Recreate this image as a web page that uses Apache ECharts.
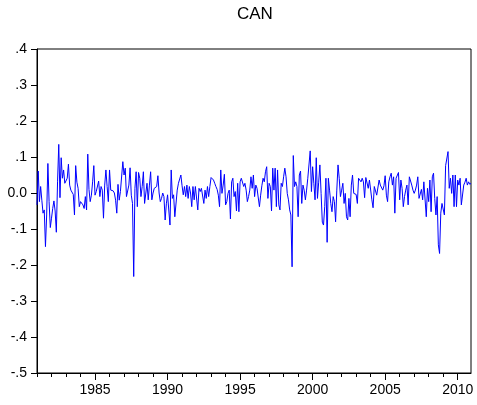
<!DOCTYPE html>
<html>
<head>
<meta charset="utf-8">
<script src="https://cdn.jsdelivr.net/npm/echarts@6/dist/echarts.min.js"></script>
<style>
  html, body { margin: 0; padding: 0; background: #fff; }
  #chart { width: 477px; height: 405px; }
</style>
</head>
<body>
<div id="chart"></div>
<script>
// CAN, monthly, 1981M01 - 2010M12 (one row per year)
const can1981_1990 = [
  -0.033, 0.061, -0.024, 0.018, -0.020, -0.056, -0.047, -0.149, -0.061, 0.082, -0.024, -0.096,
  -0.070, -0.043, -0.022, -0.050, -0.109, 0.031, 0.135, -0.013, 0.098, 0.041, 0.064, 0.027,
  0.031, 0.041, 0.080, 0.022, 0.008, 0.004, -0.004, -0.061, 0.076, 0.030, 0.013, -0.038,
  -0.024, -0.020, -0.033, -0.043, -0.010, -0.047, 0.108, 0.010, -0.024, -0.006, 0.031, 0.076,
  -0.006, 0.004, 0.002, 0.033, -0.010, 0.018, 0.008, -0.070, 0.022, 0.064, 0.018, -0.024,
  0.064, 0.008, 0.004, 0.006, 0.000, -0.020, -0.056, 0.024, -0.020, 0.004, -0.001, 0.087,
  0.050, 0.069, -0.010, -0.015, 0.022, 0.070, -0.006, -0.029, -0.232, 0.013, 0.059, -0.038,
  0.057, 0.041, -0.010, 0.018, 0.059, -0.029, -0.033, 0.027, -0.019, 0.022, 0.059, -0.019,
  0.000, 0.013, 0.008, 0.018, 0.048, 0.000, -0.024, -0.015, 0.000, -0.010, -0.075, -0.030,
  -0.005, 0.000, -0.089, 0.064, -0.015, -0.005, -0.066, -0.061, 0.008, 0.027, 0.022, 0.050
];
const can1991_2000 = [
  0.020, -0.005, 0.018, -0.010, 0.022, -0.015, 0.018, 0.000, -0.038, 0.018, -0.019, 0.018,
  0.022, -0.047, 0.013, 0.004, 0.013, 0.013, -0.029, 0.008, -0.015, 0.018, -0.010, 0.018,
  0.043, 0.048, 0.036, 0.027, 0.018, 0.010, -0.006, -0.038, 0.064, -0.001, 0.022, 0.052,
  -0.033, -0.024, -0.001, 0.008, -0.072, 0.031, 0.041, -0.010, 0.004, -0.050, 0.027, -0.052,
  0.031, 0.041, 0.036, 0.018, 0.027, 0.008, -0.024, -0.010, 0.008, 0.045, 0.013, 0.050,
  -0.010, 0.022, 0.013, 0.013, -0.038, -0.006, 0.020, 0.041, 0.031, 0.059, 0.073, -0.015,
  0.027, 0.018, -0.050, 0.069, 0.008, 0.069, -0.038, 0.064, -0.033, -0.047, 0.027, 0.018,
  0.045, 0.069, 0.045, -0.001, -0.019, -0.047, -0.061, -0.205, 0.104, 0.018, 0.031, 0.018,
  -0.066, 0.050, 0.061, -0.029, 0.022, 0.008, -0.019, 0.008, 0.041, 0.036, 0.117, 0.004,
  0.073, 0.027, -0.019, 0.098, -0.015, 0.030, 0.078, -0.001, -0.081, -0.089, -0.038, 0.041
];
const can2001_2010 = [
  -0.137, 0.041, 0.008, -0.029, -0.052, -0.010, -0.024, -0.080, 0.008, 0.078, 0.041, -0.010,
  0.008, 0.027, -0.029, -0.001, -0.066, -0.075, -0.015, -0.066, 0.022, 0.050, -0.001, -0.006,
  -0.004, -0.029, 0.041, 0.043, 0.031, 0.041, 0.031, -0.013, 0.043, 0.045, 0.013, 0.036,
  0.031, -0.019, -0.041, 0.018, 0.022, -0.006, -0.010, 0.036, 0.022, 0.018, 0.008, 0.020,
  0.048, -0.006, -0.024, 0.031, 0.045, 0.055, 0.022, 0.045, -0.056, 0.041, 0.045, 0.057,
  -0.019, 0.036, 0.013, -0.038, -0.010, 0.008, 0.022, -0.033, 0.045, 0.041, 0.022, 0.008,
  -0.001, 0.008, 0.022, 0.045, -0.015, -0.010, 0.010, -0.019, 0.031, 0.036, -0.066, 0.013,
  -0.024, 0.036, -0.052, 0.045, 0.055, -0.015, -0.061, -0.010, -0.144, -0.168, -0.056, -0.029,
  -0.033, -0.061, 0.076, 0.078, 0.115, 0.013, 0.041, -0.001, 0.050, -0.038, 0.050, -0.038,
  0.036, 0.022, 0.041, -0.033, -0.038, 0.022, 0.030, 0.041, 0.022, 0.031, 0.024, 0.027
];

const firstYear = 1981;
const lastYear = 2010;
const labelYears = [1985, 1990, 1995, 2000, 2005, 2010];

// categories 1981M01 ... 2010M12
const months = [];
for (let y = firstYear; y <= lastYear; y++) {
  for (let m = 1; m <= 12; m++) months.push(y + 'M' + String(m).padStart(2, '0'));
}
const values = can1981_1990.concat(can1991_2000, can2001_2010);

const isJan = v => v.slice(4) === 'M01';
const isLabelYear = v => isJan(v) && labelYears.indexOf(+v.slice(0, 4)) >= 0;

// y labels in EViews style: .4  .1  0.0  -.1
const fmtY = v => {
  const n = Math.round(v * 10);
  if (n === 0) return '0.0';
  return (n < 0 ? '-' : '') + '.' + Math.abs(n);
};

const font = 'Liberation Sans, Arial, sans-serif';
const chart = echarts.init(document.getElementById('chart'), null, { renderer: 'canvas' });

chart.setOption({
  animation: false,
  backgroundColor: '#fff',
  title: {
    text: 'CAN',
    left: 237,
    top: 6,
    padding: 0,
    textStyle: { fontFamily: font, fontSize: 17, fontWeight: 'normal', color: '#000' }
  },
  grid: {
    left: 37, right: 6, top: 49, bottom: 32,
    show: true, borderColor: '#000', borderWidth: 1,
    outerBoundsMode: 'none'
  },
  xAxis: [
    {
      // yearly minor ticks
      type: 'category',
      data: months,
      boundaryGap: false,
      position: 'bottom',
      axisLine: { show: true, onZero: false, lineStyle: { color: '#000', width: 1 } },
      axisTick: { show: true, interval: (i, v) => isJan(v), length: 4, lineStyle: { color: '#000' } },
      axisLabel: { show: false },
      splitLine: { show: false }
    },
    {
      // major ticks and labels every 5 years
      type: 'category',
      data: months,
      boundaryGap: false,
      position: 'bottom',
      axisLine: { show: false, onZero: false },
      axisTick: { show: true, interval: (i, v) => isLabelYear(v), length: 7, lineStyle: { color: '#000' } },
      axisLabel: {
        show: true,
        interval: (i, v) => isLabelYear(v),
        formatter: v => v.slice(0, 4),
        margin: 10,
        fontFamily: font, fontSize: 14, color: '#000'
      },
      splitLine: { show: false }
    }
  ],
  yAxis: {
    type: 'value',
    min: -0.5,
    max: 0.4,
    interval: 0.1,
    axisLine: { show: true, lineStyle: { color: '#000', width: 1 } },
    axisTick: { show: true, length: 6, lineStyle: { color: '#000' } },
    axisLabel: { formatter: fmtY, margin: 10, fontFamily: font, fontSize: 14, color: '#000' },
    splitLine: { show: false }
  },
  series: [{
    name: 'CAN',
    type: 'line',
    xAxisIndex: 0,
    data: values,
    showSymbol: false,
    symbol: 'none',
    lineStyle: { color: '#0000ff', width: 1 },
    silent: true
  }]
});
</script>
</body>
</html>
